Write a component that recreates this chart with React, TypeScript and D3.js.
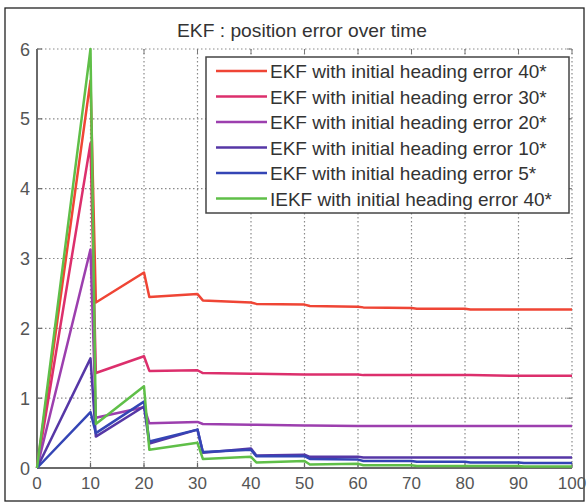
import React from "react";
import * as d3 from "d3";

const title = "EKF : position error over time";
const xTicks = [0, 10, 20, 30, 40, 50, 60, 70, 80, 90, 100];
const yTicks = [0, 1, 2, 3, 4, 5, 6];
const xs = [0, 10, 11, 20, 21, 30, 31, 40, 41, 50, 51, 60, 61, 70, 71, 80, 81, 90, 91, 100];

const seriesNames = [
  "EKF with initial heading error 40*",
  "EKF with initial heading error 30*",
  "EKF with initial heading error 20*",
  "EKF with initial heading error 10*",
  "EKF with initial heading error 5*",
  "IEKF with initial heading error 40*",
];
const seriesColors = ["#ef4535", "#dc2f6c", "#9c3fae", "#5637a6", "#3445b5", "#5fbf48"];

const ekf40 = [0, 5.55, 2.37, 2.8, 2.45, 2.49, 2.4, 2.37, 2.35, 2.34, 2.32, 2.31, 2.3, 2.29, 2.28, 2.28, 2.27, 2.27, 2.27, 2.27];
const ekf30 = [0, 4.65, 1.36, 1.6, 1.39, 1.4, 1.36, 1.35, 1.35, 1.34, 1.34, 1.34, 1.33, 1.33, 1.33, 1.33, 1.33, 1.32, 1.32, 1.32];
const ekf20 = [0, 3.13, 0.72, 0.87, 0.64, 0.66, 0.63, 0.62, 0.62, 0.61, 0.61, 0.6, 0.6, 0.6, 0.6, 0.6, 0.6, 0.6, 0.6, 0.6];
const ekf10 = [0, 1.57, 0.45, 0.88, 0.35, 0.55, 0.22, 0.28, 0.18, 0.19, 0.16, 0.16, 0.15, 0.15, 0.15, 0.15, 0.15, 0.15, 0.15, 0.15];
const ekf5 = [0, 0.8, 0.5, 0.95, 0.38, 0.55, 0.23, 0.26, 0.17, 0.17, 0.13, 0.12, 0.1, 0.1, 0.09, 0.09, 0.08, 0.08, 0.07, 0.07];
const iekf40 = [0, 6.0, 0.63, 1.17, 0.26, 0.36, 0.13, 0.16, 0.08, 0.1, 0.05, 0.06, 0.04, 0.04, 0.03, 0.03, 0.03, 0.03, 0.02, 0.02];

const seriesValues = [ekf40, ekf30, ekf20, ekf10, ekf5, iekf40];

const W = 588;
const H = 504;
const m = { left: 37, right: 572, top: 49, bottom: 468 };

export default function App() {
  const x = d3.scaleLinear().domain([0, 100]).range([m.left, m.right]);
  const y = d3.scaleLinear().domain([0, 6]).range([m.bottom, m.top]);
  const line = d3
    .line<[number, number]>()
    .x((d) => x(d[0]))
    .y((d) => y(d[1]));

  const font = "'Liberation Sans', Arial, sans-serif";
  const gridColor = "#8a8a8a";
  const legX = 206;
  const legY = 57;
  const legW = 363;
  const legH = 156;
  const rowY0 = 71;
  const rowStep = 25.5;

  return (
    <svg
      width={W}
      height={H}
      style={{ position: "absolute", left: 0, top: 0, background: "#fff" }}
      fontFamily={font}
    >
      <rect x={5} y={8} width={579} height={493} fill="#fff" stroke="#222" strokeWidth={1.3} />
      <text x={302} y={37} textAnchor="middle" fontSize={19} fill="#333" textLength={250} lengthAdjust="spacingAndGlyphs">
        {title}
      </text>

      {/* grid */}
      {xTicks.slice(1).map((t) => (
        <line key={"gx" + t} x1={x(t)} x2={x(t)} y1={m.top} y2={m.bottom} stroke={gridColor} strokeWidth={1.2} strokeDasharray="1.5,2.5" />
      ))}
      {yTicks.slice(1).map((t) => (
        <line key={"gy" + t} x1={m.left} x2={m.right} y1={y(t)} y2={y(t)} stroke={gridColor} strokeWidth={1.2} strokeDasharray="1.5,2.5" />
      ))}

      {/* ticks */}
      {xTicks.map((t) => (
        <g key={"tx" + t}>
          <line x1={x(t)} x2={x(t)} y1={m.bottom} y2={m.bottom - 5} stroke="#666" strokeWidth={1.2} />
          <line x1={x(t)} x2={x(t)} y1={m.top} y2={m.top + 5} stroke="#777" strokeWidth={1} />
          <text x={x(t)} y={489} textAnchor="middle" fontSize={17} fill="#555">
            {t}
          </text>
        </g>
      ))}
      {yTicks.map((t) => (
        <g key={"ty" + t}>
          <line x1={m.left} x2={m.left + 5} y1={y(t)} y2={y(t)} stroke="#666" strokeWidth={1.2} />
          <line x1={m.right} x2={m.right - 5} y1={y(t)} y2={y(t)} stroke="#777" strokeWidth={1} />
          <text x={30} y={y(t) + 6.5} textAnchor="end" fontSize={18} fill="#555">
            {t}
          </text>
        </g>
      ))}

      {/* axes */}
      <line x1={m.left} x2={m.left} y1={m.top} y2={m.bottom} stroke="#6a6a6a" strokeWidth={2} />
      <line x1={m.left} x2={m.right} y1={m.bottom} y2={m.bottom} stroke="#6a6a6a" strokeWidth={2} />

      {/* series */}
      {seriesValues.map((vals, i) => (
        <path
          key={"s" + i}
          d={line(xs.map((xv, j) => [xv, vals[j]] as [number, number])) || ""}
          fill="none"
          stroke={seriesColors[i]}
          strokeWidth={2.5}
          strokeLinejoin="round"
        />
      ))}

      {/* legend */}
      <rect x={legX} y={legY} width={legW} height={legH} fill="#fff" stroke="#444" strokeWidth={1.5} />
      {seriesNames.map((name, i) => {
        const ry = rowY0 + i * rowStep;
        return (
          <g key={"l" + i}>
            <line x1={216} x2={267} y1={ry} y2={ry} stroke={seriesColors[i]} strokeWidth={2.5} />
            <text x={270} y={ry + 7} fontSize={19} fill="#333">
              {name}
            </text>
          </g>
        );
      })}
    </svg>
  );
}
